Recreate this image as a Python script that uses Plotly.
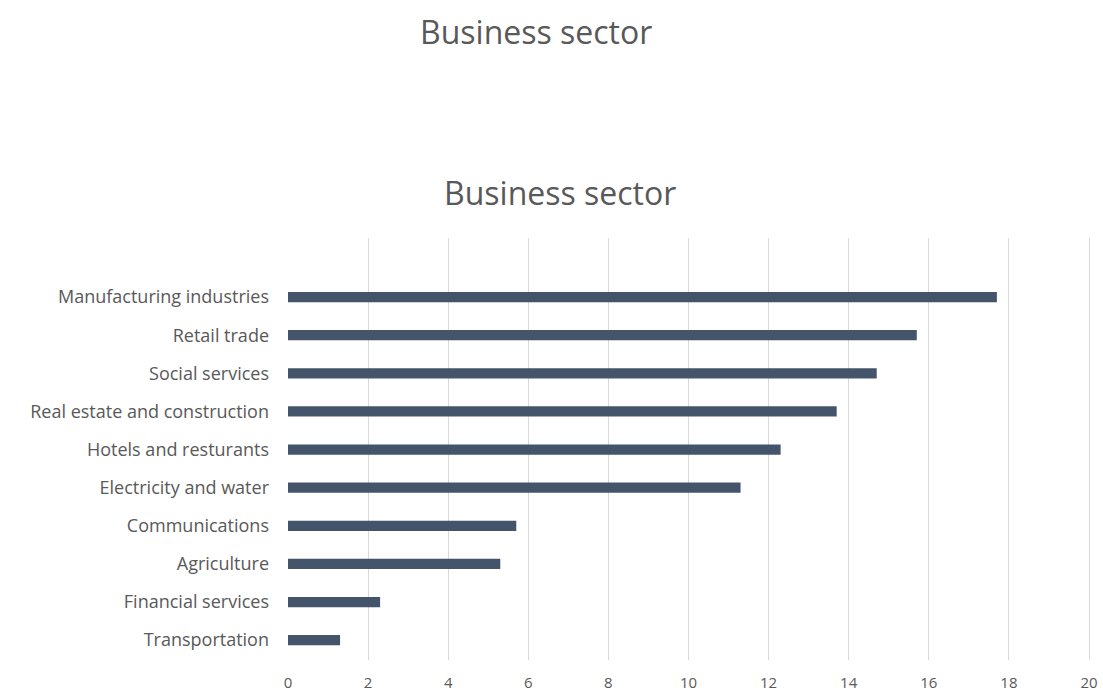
import plotly.graph_objects as go

# Sector shares, listed bottom to top as drawn on the chart
sectors = [
    "Transportation",
    "Financial services",
    "Agriculture",
    "Communications",
    "Electricity and water",
    "Hotels and resturants",
    "Real estate and construction",
    "Social services",
    "Retail trade",
    "Manufacturing industries",
]
values = [1.3, 2.3, 5.3, 5.7, 11.3, 12.3, 13.7, 14.7, 15.7, 17.7]
x_ticks = [0, 2, 4, 6, 8, 10, 12, 14, 16, 18, 20]

title_text = "Business sector"
font_family = "'Open Sans', sans-serif"
text_grey = "#595959"

# plot area in pixels
PL, PR, PT, PB = 288, 1091, 238, 660
W, H = 1103, 696


def px_to_paper(x, y):
    """Convert a pixel position on the page to paper coordinates."""
    return (x - PL) / (PR - PL), (PB - y) / (PB - PT)


fig = go.Figure(
    go.Bar(
        x=values,
        y=sectors,
        orientation="h",
        marker=dict(color="#44546A", line=dict(width=0)),
        width=0.27,
        hoverinfo="x+y",
    )
)

t1x, t1y = px_to_paper(536, 32)
t2x, t2y = px_to_paper(560, 192)

fig.update_layout(
    width=W,
    height=H,
    margin=dict(l=PL, r=W - PR, t=PT, b=H - PB, autoexpand=False),
    paper_bgcolor="white",
    plot_bgcolor="white",
    showlegend=False,
    font=dict(family=font_family, size=16, color=text_grey),
    annotations=[
        dict(
            text=title_text, xref="paper", yref="paper",
            x=t1x, y=t1y, xanchor="center", yanchor="middle", showarrow=False,
            font=dict(size=32, color=text_grey, family=font_family),
        ),
        dict(
            text=title_text, xref="paper", yref="paper",
            x=t2x, y=t2y, xanchor="center", yanchor="middle", showarrow=False,
            font=dict(size=32, color=text_grey, family=font_family),
        ),
    ],
)

fig.update_xaxes(
    range=[0, 20.05],
    tickvals=x_ticks,
    showgrid=True,
    gridcolor="#D9D9D9",
    gridwidth=1,
    zeroline=False,
    showline=False,
    ticks="",
    automargin=False,
    ticklabelstandoff=12,
    tickfont=dict(size=15, color=text_grey),
)

fig.update_yaxes(
    type="category",
    categoryorder="array",
    categoryarray=sectors,
    range=[-0.52, 10.55],
    showgrid=False,
    zeroline=False,
    showline=False,
    ticks="",
    automargin=False,
    ticklabelstandoff=18,
    tickfont=dict(size=18, color=text_grey),
)

fig.write_html("out.html")
